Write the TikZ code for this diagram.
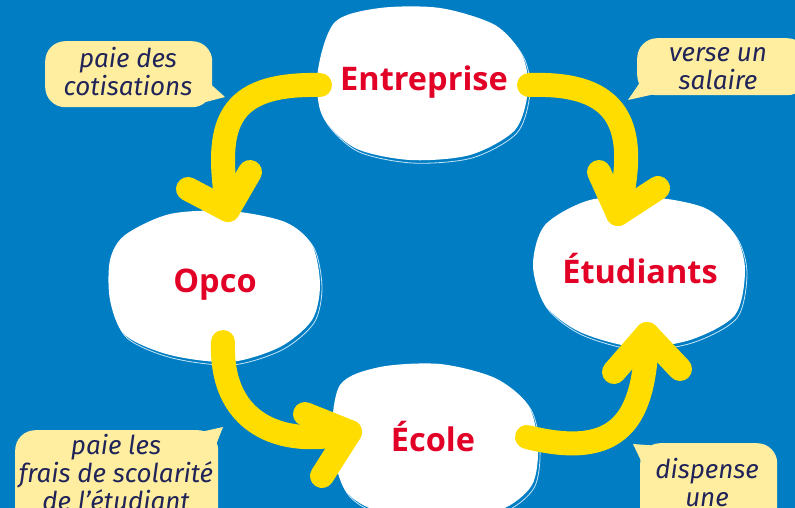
\documentclass[tikz,border=0pt]{standalone}
\usepackage{fontspec}
\setmainfont{Fira Sans}
\newfontfamily\labelfont{Open Sans}
\definecolor{bgblue}{RGB}{0,125,195}
\definecolor{ayellow}{RGB}{255,221,0}
\definecolor{bubyellow}{RGB}{255,238,160}
\definecolor{navy}{RGB}{32,36,88}
\definecolor{lred}{RGB}{226,0,38}
\definecolor{halo}{RGB}{200,230,248}
\begin{document}
\begin{tikzpicture}[x=1pt,y=-1pt,
  flow/.style={ayellow, line width=24pt, line cap=round, line join=round},
  bloboutline/.style={draw=halo, line width=0.8pt},
  label/.style={text=lred, font=\labelfont\fontsize{32.5}{38}\selectfont\bfseries, inner sep=0pt},
  bubble/.style={fill=bubyellow, rounded corners=20pt, inner sep=0pt, draw=none},
  tail/.style={fill=bubyellow},
  saytext/.style={text=navy, font=\fontsize{26}{28}\selectfont\itshape, align=center, inner sep=0pt}
]
\useasboundingbox (0,0) rectangle (795,508);
\clip (0,0) rectangle (795,508);
\fill[bgblue] (0,0) rectangle (795,508);

% speech bubbles
\node[bubble, anchor=north west, minimum width=167pt, minimum height=66pt] (b1) at (45,41) {};
\fill[tail] (206,80) -- (225,97) -- (198,104) -- cycle;
\node[bubble, anchor=north west, minimum width=170pt, minimum height=57pt] (b2) at (637,38) {};
\fill[tail] (643,78) -- (628,100) -- (655,94) -- cycle;
\node[bubble, anchor=north west, minimum width=203pt, minimum height=110pt] (b3) at (15,430) {};
\fill[tail] (196,433) -- (223,427) -- (214,450) -- cycle;
\node[bubble, anchor=north west, minimum width=137pt, minimum height=100pt] (b4) at (640,443) {};
\fill[tail] (633,444) -- (643,465) -- (660,446) -- cycle;

\node[saytext] (s1t) at (128,72) {paie des\\cotisations};
\node[saytext] (s2t) at (718,69) {verse un\\salaire};
\node[saytext] (s3t) at (116,473) {paie les\\frais de scolarité\\de l’étudiant};
\node[saytext] (s4t) at (707,483) {dispense\\une};

% blobs
\begin{scope}[shift={(2,3)}]
\draw[bloboutline] plot[smooth cycle] coordinates {(335,22) (380,8) (440,8) (495,25) (522,55) (528,90) (515,130) (470,155) (410,160) (355,148) (322,115) (318,70)};
\draw[bloboutline] plot[smooth cycle] coordinates {(125,235) (170,214) (230,211) (285,222) (312,245) (320,285) (312,320) (280,347) (230,362) (170,355) (125,335) (110,300) (110,260)};
\draw[bloboutline] plot[smooth cycle] coordinates {(545,225) (590,200) (650,197) (705,208) (735,235) (745,270) (735,315) (690,340) (635,347) (580,332) (545,305) (533,265)};
\draw[bloboutline] plot[smooth cycle] coordinates {(340,385) (380,367) (440,364) (495,378) (528,405) (538,445) (532,485) (500,510) (440,518) (380,512) (345,490) (332,440)};
\end{scope}
\fill[white] plot[smooth cycle] coordinates {(335,22) (380,8) (440,8) (495,25) (522,55) (528,90) (515,130) (470,155) (410,160) (355,148) (322,115) (318,70)};
\fill[white] plot[smooth cycle] coordinates {(125,235) (170,214) (230,211) (285,222) (312,245) (320,285) (312,320) (280,347) (230,362) (170,355) (125,335) (110,300) (110,260)};
\fill[white] plot[smooth cycle] coordinates {(545,225) (590,200) (650,197) (705,208) (735,235) (745,270) (735,315) (690,340) (635,347) (580,332) (545,305) (533,265)};
\fill[white] plot[smooth cycle] coordinates {(340,385) (380,367) (440,364) (495,378) (528,405) (538,445) (532,485) (500,510) (440,518) (380,512) (345,490) (332,440)};

\node[label] (ent) at (424,82) {Entreprise};
\node[label] (opco) at (215,285) {Opco};
\node[label] (etu) at (640,269) {Étudiants};
\node[label] (eco) at (433,437) {École};

% arrows
\coordinate (a1s) at (320,85);  \coordinate (a1t) at (228,210);
\coordinate (a1l) at (188,189); \coordinate (a1r) at (250,172);
\coordinate (a2s) at (529,85);  \coordinate (a2t) at (618,214);
\coordinate (a2l) at (599,172); \coordinate (a2r) at (658,188);
\coordinate (a3s) at (223,342); \coordinate (a3t) at (350,432);
\coordinate (a3l) at (305,414); \coordinate (a3r) at (322,476);
\coordinate (a4s) at (527,437); \coordinate (a4t) at (647,334);
\coordinate (a4l) at (614,372); \coordinate (a4r) at (680,369);

\draw[flow] (a1s) .. controls (225,83) and (214,125) .. (a1t);
\draw[flow] (a1l) -- (a1t) -- (a1r);
\draw[flow] (a2s) .. controls (620,82) and (640,125) .. (a2t);
\draw[flow] (a2l) -- (a2t) -- (a2r);
\draw[flow] (a3s) .. controls (220,430) and (290,448) .. (a3t);
\draw[flow] (a3l) -- (a3t) -- (a3r);
\draw[flow] (a4s) .. controls (620,460) and (645,420) .. (a4t);
\draw[flow] (a4l) -- (a4t) -- (a4r);
\end{tikzpicture}
\end{document}
